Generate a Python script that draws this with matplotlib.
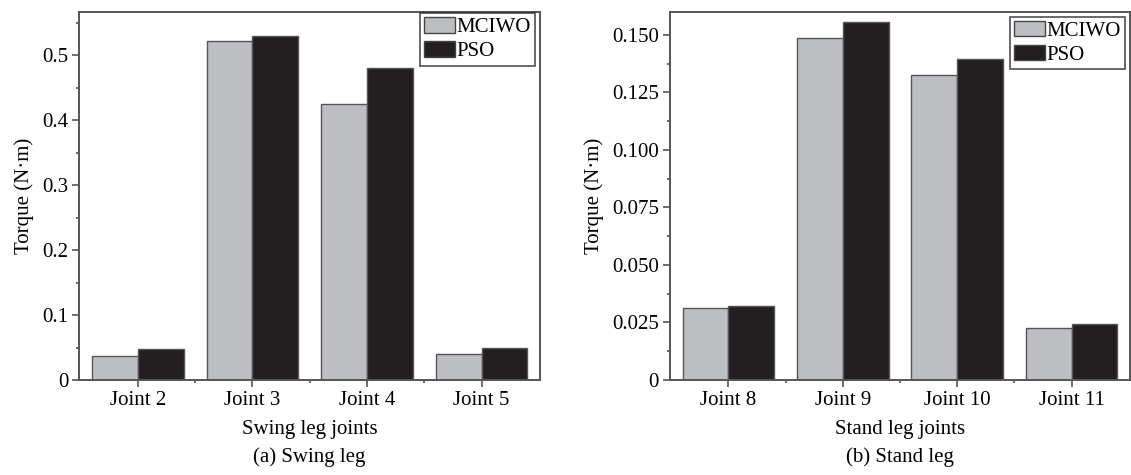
import numpy as np
import matplotlib.pyplot as plt

plt.rcParams["font.family"] = ["Liberation Serif", "DejaVu Serif"]

# data
swing_joints = ["Joint 2", "Joint 3", "Joint 4", "Joint 5"]
swing_mciwo = [0.0375, 0.522, 0.425, 0.040]
swing_pso = [0.047, 0.530, 0.480, 0.049]

stand_joints = ["Joint 8", "Joint 9", "Joint 10", "Joint 11"]
stand_mciwo = [0.0312, 0.1488, 0.1326, 0.0225]
stand_pso = [0.0322, 0.1555, 0.1397, 0.0242]

gray = "#bdbec2"
black = "#231f20"
edge = "#555555"
fs = 15

fig = plt.figure(figsize=(11.31, 4.75), dpi=100)
ax1 = fig.add_axes([0.0701, 0.2, 0.4074, 0.7754])
ax2 = fig.add_axes([0.5924, 0.2, 0.4067, 0.7754])


def draw(ax, joints, mciwo, pso, ymax, major, minor, fmt, xlabel, anchor):
    x = np.arange(1, len(joints) + 1)
    w = 0.4
    ax.bar(x - w / 2, mciwo, w, color=gray, edgecolor=edge, linewidth=1.0, label="MCIWO")
    ax.bar(x + w / 2, pso, w, color=black, edgecolor=edge, linewidth=1.0, label="PSO")
    ax.set_xlim(0.49, len(joints) + 0.51)
    ax.set_ylim(0, ymax)
    ax.set_xticks(x)
    ax.set_xticklabels(joints)
    ax.set_xticks(x[:-1] + 0.5, minor=True)
    ax.set_yticks(major)
    ax.set_yticklabels(fmt)
    ax.set_yticks(minor, minor=True)
    ax.tick_params(direction="out", labelsize=fs, length=5, width=1.2, color=edge, pad=3)
    ax.tick_params(which="minor", direction="out", length=2.5, width=1.2, color=edge)
    for s in ax.spines.values():
        s.set_color(edge)
        s.set_linewidth(1.4)
    ax.set_xlabel(xlabel, fontsize=fs, labelpad=7)
    ax.set_ylabel("Torque (N·m)", fontsize=fs, labelpad=6)
    leg = ax.legend(loc="upper right", bbox_to_anchor=anchor, fontsize=fs, frameon=True,
                    fancybox=False, borderpad=0.2, handlelength=1.5, handleheight=0.75,
                    handletextpad=0.05, labelspacing=0.2, borderaxespad=0.25)
    leg.get_frame().set_edgecolor("#222222")
    leg.get_frame().set_linewidth(1.2)
    for h in leg.legend_handles:
        h.set_edgecolor("#444444")


draw(ax1, swing_joints, swing_mciwo, swing_pso, 0.567,
     [0, 0.1, 0.2, 0.3, 0.4, 0.5], np.arange(0.05, 0.56, 0.1),
     ["0", "0.1", "0.2", "0.3", "0.4", "0.5"], "Swing leg joints", (1.0, 1.01))
draw(ax2, stand_joints, stand_mciwo, stand_pso, 0.1601,
     [0, 0.025, 0.05, 0.075, 0.1, 0.125, 0.15], np.arange(0.0125, 0.16, 0.025),
     ["0", "0.025", "0.050", "0.075", "0.100", "0.125", "0.150"], "Stand leg joints", (1.0, 1.0))

fig.text(0.2738, 0.038, "(a) Swing leg", ha="center", va="center", fontsize=fs)
fig.text(0.7958, 0.038, "(b) Stand leg", ha="center", va="center", fontsize=fs)

plt.savefig("out.png", dpi=100)
